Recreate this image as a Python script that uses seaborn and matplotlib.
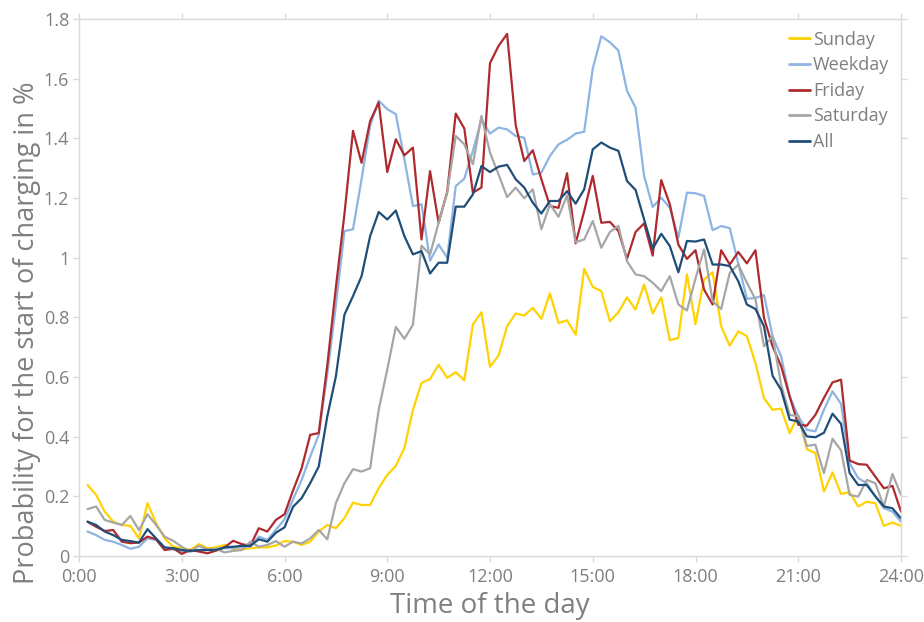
import numpy as np
import pandas as pd
import matplotlib
matplotlib.use("Agg")
import matplotlib.pyplot as plt
import seaborn as sns

# time in hours (15-min steps, 0:15 .. 24:00)
hours = [i * 0.25 for i in range(1, 97)]

sunday = [0.238, 0.205, 0.149, 0.115, 0.104, 0.101, 0.059, 0.177, 0.11, 0.059, 0.031, 0.026,
          0.02, 0.04, 0.026, 0.029, 0.037, 0.024, 0.022, 0.026, 0.029, 0.029, 0.035, 0.05,
          0.048, 0.037, 0.048, 0.082, 0.104, 0.093, 0.127, 0.179, 0.171, 0.171, 0.227, 0.272,
          0.302, 0.362, 0.49, 0.58, 0.593, 0.641, 0.597, 0.616, 0.589, 0.776, 0.817, 0.634,
          0.672, 0.77, 0.813, 0.806, 0.832, 0.795, 0.88, 0.781, 0.79, 0.742, 0.963, 0.902,
          0.888, 0.787, 0.817, 0.867, 0.826, 0.91, 0.813, 0.867, 0.723, 0.731, 0.944, 0.777,
          0.927, 0.951, 0.77, 0.705, 0.753, 0.737, 0.647, 0.529, 0.49, 0.494, 0.412, 0.473,
          0.358, 0.345, 0.216, 0.28, 0.208, 0.214, 0.166, 0.182, 0.177, 0.101, 0.112, 0.101]

weekday = [0.082, 0.07, 0.054, 0.048, 0.037, 0.024, 0.031, 0.059, 0.054, 0.022, 0.022, 0.015,
           0.015, 0.02, 0.02, 0.024, 0.026, 0.026, 0.031, 0.031, 0.065, 0.054, 0.088, 0.123,
           0.19, 0.255, 0.333, 0.406, 0.61, 0.84, 1.089, 1.095, 1.263, 1.442, 1.526, 1.498,
           1.481, 1.33, 1.173, 1.179, 0.99, 1.044, 1.0, 1.24, 1.265, 1.358, 1.464, 1.416,
           1.436, 1.43, 1.408, 1.402, 1.279, 1.285, 1.341, 1.38, 1.395, 1.416, 1.422, 1.634,
           1.742, 1.722, 1.694, 1.559, 1.503, 1.274, 1.17, 1.201, 1.167, 1.067, 1.218, 1.216,
           1.207, 1.092, 1.106, 1.099, 0.98, 0.862, 0.865, 0.875, 0.737, 0.669, 0.535, 0.468,
           0.423, 0.418, 0.49, 0.552, 0.51, 0.311, 0.261, 0.244, 0.2, 0.16, 0.149, 0.115]

friday = [0.115, 0.098, 0.084, 0.087, 0.048, 0.043, 0.045, 0.065, 0.056, 0.02, 0.026, 0.007,
          0.02, 0.015, 0.009, 0.018, 0.029, 0.051, 0.04, 0.034, 0.093, 0.082, 0.121, 0.14,
          0.22, 0.294, 0.406, 0.412, 0.64, 0.90, 1.146, 1.425, 1.318, 1.458, 1.52, 1.287,
          1.397, 1.343, 1.369, 1.061, 1.29, 1.117, 1.22, 1.483, 1.433, 1.218, 1.235, 1.652,
          1.71, 1.75, 1.444, 1.324, 1.36, 1.263, 1.173, 1.167, 1.283, 1.048, 1.156, 1.274,
          1.117, 1.12, 1.089, 0.996, 1.086, 1.115, 1.007, 1.26, 1.179, 1.044, 0.996, 1.025,
          0.893, 0.843, 1.025, 0.977, 1.019, 0.981, 1.025, 0.798, 0.703, 0.636, 0.535, 0.44,
          0.437, 0.473, 0.53, 0.582, 0.591, 0.32, 0.308, 0.306, 0.266, 0.227, 0.235, 0.149]

saturday = [0.157, 0.166, 0.121, 0.112, 0.104, 0.134, 0.087, 0.14, 0.104, 0.065, 0.051, 0.031,
            0.015, 0.034, 0.022, 0.024, 0.012, 0.017, 0.02, 0.048, 0.031, 0.037, 0.05, 0.031,
            0.048, 0.042, 0.059, 0.087, 0.056, 0.177, 0.244, 0.291, 0.283, 0.294, 0.49, 0.625,
            0.768, 0.728, 0.775, 1.04, 1.011, 1.117, 1.218, 1.408, 1.38, 1.313, 1.475, 1.352,
            1.279, 1.203, 1.235, 1.199, 1.229, 1.095, 1.179, 1.137, 1.209, 1.052, 1.061, 1.123,
            1.033, 1.086, 1.106, 0.988, 0.944, 0.938, 0.916, 0.888, 0.938, 0.843, 0.823, 0.93,
            1.028, 0.854, 0.828, 0.949, 0.977, 0.916, 0.86, 0.703, 0.737, 0.574, 0.473, 0.468,
            0.369, 0.373, 0.278, 0.393, 0.354, 0.205, 0.199, 0.255, 0.244, 0.166, 0.275, 0.205]

all_days = [0.115, 0.104, 0.082, 0.07, 0.054, 0.05, 0.045, 0.09, 0.059, 0.029, 0.026, 0.02,
            0.017, 0.02, 0.02, 0.02, 0.029, 0.031, 0.034, 0.034, 0.056, 0.048, 0.078, 0.096,
            0.165, 0.194, 0.244, 0.30, 0.468, 0.602, 0.809, 0.871, 0.938, 1.072, 1.153, 1.128,
            1.158, 1.072, 1.011, 1.022, 0.947, 0.983, 0.983, 1.171, 1.171, 1.212, 1.307, 1.287,
            1.305, 1.311, 1.263, 1.235, 1.184, 1.148, 1.19, 1.19, 1.223, 1.181, 1.229, 1.363,
            1.386, 1.369, 1.358, 1.257, 1.227, 1.128, 1.03, 1.08, 1.039, 0.951, 1.056, 1.054,
            1.061, 0.977, 0.977, 0.972, 0.921, 0.843, 0.828, 0.77, 0.604, 0.557, 0.457, 0.451,
            0.401, 0.398, 0.413, 0.477, 0.443, 0.278, 0.238, 0.238, 0.2, 0.166, 0.16, 0.126]

series_names = ["Sunday", "Weekday", "Friday", "Saturday", "All"]
series_values = [sunday, weekday, friday, saturday, all_days]
colors = ["#FFD200", "#8DB4E2", "#AE2A2E", "#A6A6A6", "#1F4E79"]

x_ticks = [0, 3, 6, 9, 12, 15, 18, 21, 24]
x_tick_labels = ["0:00", "3:00", "6:00", "9:00", "12:00", "15:00", "18:00", "21:00", "24:00"]
y_ticks = [0, 0.2, 0.4, 0.6, 0.8, 1.0, 1.2, 1.4, 1.6, 1.8]
y_tick_labels = ["0", "0.2", "0.4", "0.6", "0.8", "1", "1.2", "1.4", "1.6", "1.8"]

df = pd.concat([pd.DataFrame({"hour": hours, "value": v, "series": n})
                for n, v in zip(series_names, series_values)], ignore_index=True)

sns.set_theme(style="white")
plt.rcParams["font.family"] = ["Open Sans", "DejaVu Sans"]

W, H = 924, 622
fig = plt.figure(figsize=(W / 100, H / 100), dpi=100)
ax = fig.add_axes([79 / W, (H - 556) / H, 822 / W, 537 / H])

sns.lineplot(data=df, x="hour", y="value", hue="series", hue_order=series_names,
             palette=colors, linewidth=1.6, ax=ax, legend=True)

ax.set_xlim(0, 24)
ax.set_ylim(0, 1.8)
ax.set_xticks(x_ticks)
ax.set_xticklabels(x_tick_labels)
ax.set_yticks(y_ticks)
ax.set_yticklabels(y_tick_labels)

grey_text = "#7F7F7F"
spine_c = "#D9D9D9"
for s in ax.spines.values():
    s.set_visible(True)
    s.set_color(spine_c)
    s.set_linewidth(1.0)

ax.tick_params(axis="both", which="both", direction="out", length=4, width=1,
               color=spine_c, labelcolor=grey_text, labelsize=13)
ax.tick_params(axis="x", pad=5, top=True, bottom=True)
ax.tick_params(axis="y", pad=3, left=True, right=True)

ax.set_xlabel("")
ax.set_ylabel("")
fig.text(0.5 * (79 + 901) / W, 2 / H, "Time of the day", ha="center", va="bottom",
         fontsize=20, color=grey_text)
fig.text(13 / W, 289 / H, "Probability for the start of charging in %", rotation=90,
         ha="left", va="center", fontsize=19.5, color=grey_text)

leg = ax.legend(loc="upper right", bbox_to_anchor=(1.0, 1.0), frameon=False,
                fontsize=13, handlelength=1.2, handletextpad=0.15, labelspacing=0.42,
                borderaxespad=0.25)
for t in leg.get_texts():
    t.set_color(grey_text)
for l in leg.get_lines():
    l.set_linewidth(2)

fig.savefig("out.png", dpi=100)
